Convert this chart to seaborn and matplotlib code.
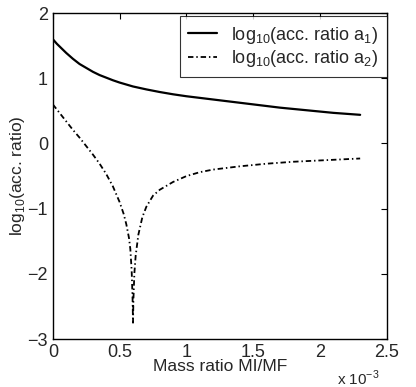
import pandas as pd
import seaborn as sns
import matplotlib.pyplot as plt

# Mass ratio MI/MF in units of 1e-3
x_a1 = [0, 0.03, 0.06, 0.1, 0.15, 0.2, 0.25, 0.3, 0.35, 0.4, 0.45, 0.5, 0.6, 0.7, 0.8,
        0.9, 1.0, 1.1, 1.2, 1.3, 1.4, 1.5, 1.6, 1.7, 1.8, 1.9, 2.0, 2.1, 2.2, 2.3]
y_a1 = [1.60, 1.53, 1.47, 1.39, 1.30, 1.22, 1.16, 1.10, 1.05, 1.01, 0.97, 0.935, 0.875, 0.83, 0.79,
        0.755, 0.725, 0.70, 0.675, 0.65, 0.625, 0.60, 0.575, 0.55, 0.53, 0.51, 0.49, 0.47, 0.455, 0.44]

x_a2 = [0, 0.05, 0.1, 0.15, 0.2, 0.25, 0.3, 0.35, 0.4, 0.45, 0.5, 0.53, 0.55, 0.57, 0.58, 0.59, 0.597, 0.6,
        0.603, 0.61, 0.62, 0.64, 0.67, 0.7, 0.75, 0.8, 0.9, 1.0, 1.1, 1.2, 1.4, 1.6, 1.8, 2.0, 2.3]
y_a2 = [0.60, 0.47, 0.34, 0.21, 0.09, -0.04, -0.17, -0.31, -0.47, -0.66, -0.90, -1.08, -1.24, -1.45, -1.62, -1.95, -2.4, -2.75,
        -2.4, -2.0, -1.72, -1.40, -1.13, -0.97, -0.80, -0.71, -0.59, -0.50, -0.44, -0.40, -0.35, -0.31, -0.28, -0.26, -0.23]

xticks = [0, 0.5, 1, 1.5, 2, 2.5]
xticklabels = ["0", "0.5", "1", "1.5", "2", "2.5"]
yticks = [-3, -2, -1, 0, 1, 2]

df1 = pd.DataFrame({"x": x_a1, "y": y_a1})
df2 = pd.DataFrame({"x": x_a2, "y": y_a2})

sns.set_style("white")
plt.rcParams["font.family"] = ["Liberation Sans", "DejaVu Sans"]
plt.rcParams["mathtext.fontset"] = "custom"
plt.rcParams["mathtext.rm"] = "Liberation Sans"

fig = plt.figure(figsize=(4.16, 3.87), dpi=100)
ax = fig.add_axes([0.127, 0.124, 0.803, 0.842])

sns.lineplot(data=df1, x="x", y="y", color="black", linewidth=1.6, ax=ax, sort=False,
             label=r"log$_{10}$(acc. ratio a$_1$)")
sns.lineplot(data=df2, x="x", y="y", color="black", linewidth=1.3, ax=ax, sort=False,
             linestyle=(0, (3, 1.6, 0.8, 1.6)),
             label=r"log$_{10}$(acc. ratio a$_2$)")

ax.set_xlim(0, 2.5)
ax.set_ylim(-3, 2)
ax.set_xticks(xticks)
ax.set_xticklabels(xticklabels)
ax.set_yticks(yticks)
ax.tick_params(direction="in", top=True, right=True, labelsize=13, length=4, color="black")
for s in ax.spines.values():
    s.set_color("black")
    s.set_linewidth(1.0)

ax.set_xlabel("Mass ratio MI/MF", fontsize=12.5, labelpad=-1)
ax.set_ylabel(r"log$_{10}$(acc. ratio)", fontsize=12.5, labelpad=0)
fig.text(0.81, 0.005, r"x 10$^{-3}$", fontsize=11)

leg = ax.legend(loc="upper right", bbox_to_anchor=(1.0, 0.99), fontsize=13, frameon=True,
                fancybox=False, edgecolor="black", handlelength=1.6, borderaxespad=0.0,
                borderpad=0.45, labelspacing=0.15, handletextpad=0.8)
leg.get_frame().set_linewidth(0.8)

fig.savefig("out.png", dpi=100)
